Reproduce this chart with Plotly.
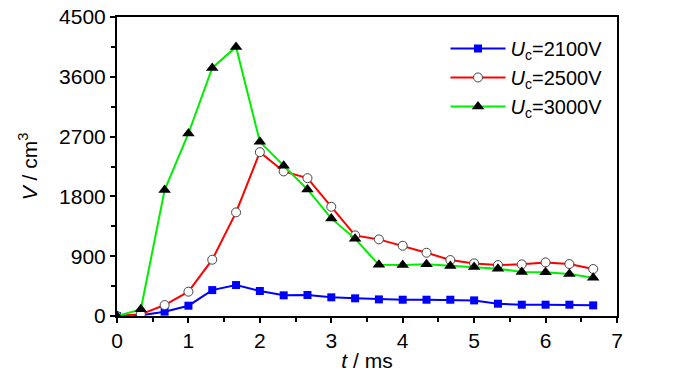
import plotly.graph_objects as go

t_ms = [0, 1/3, 2/3, 1, 4/3, 5/3, 2, 7/3, 8/3, 3, 10/3, 11/3, 4, 13/3, 14/3, 5, 16/3, 17/3, 6, 19/3, 20/3]
v_2100 = [0, 10, 65, 155, 390, 466, 376, 311, 316, 281, 266, 250, 245, 245, 245, 235, 185, 170, 170, 170, 160]
v_2500 = [0, 25, 165, 366, 847, 1559, 2466, 2176, 2075, 1644, 1213, 1153, 1057, 952, 842, 792, 767, 777, 807, 782, 707]
v_3000 = [0, 100, 1895, 2747, 3734, 4050, 2621, 2260, 1905, 1469, 1163, 770, 767, 777, 752, 737, 712, 662, 657, 632, 576]

names = ["<i>U</i><sub>c</sub>=2100V", "<i>U</i><sub>c</sub>=2500V", "<i>U</i><sub>c</sub>=3000V"]
x_ticks = [0, 1, 2, 3, 4, 5, 6, 7]
y_ticks = [0, 900, 1800, 2700, 3600, 4500]

fig = go.Figure()
fig.add_trace(go.Scatter(x=t_ms, y=v_2100, mode="lines+markers", name=names[0],
                         line=dict(color="#0000ff", width=2),
                         marker=dict(symbol="square", size=8, color="#0000ff")))
fig.add_trace(go.Scatter(x=t_ms, y=v_2500, mode="lines+markers", name=names[1],
                         line=dict(color="#ff0000", width=2),
                         marker=dict(symbol="circle", size=9, color="white",
                                     line=dict(color="#444444", width=1))))
fig.add_trace(go.Scatter(x=t_ms, y=v_3000, mode="lines+markers", name=names[2],
                         line=dict(color="#00ee00", width=2),
                         marker=dict(symbol="triangle-up", size=11, color="black")))

axis_font = dict(family="Liberation Sans, Arial", size=21, color="black")
fig.update_layout(
    width=700, height=374,
    margin=dict(l=109, r=91, t=9, b=66),
    paper_bgcolor="white", plot_bgcolor="white",
    font=axis_font,
    showlegend=True,
    legend=dict(x=0.657, y=0.96, xanchor="left", yanchor="top",
                bgcolor="rgba(0,0,0,0)", font=dict(family="Liberation Sans, Arial", size=20),
                tracegroupgap=0, itemwidth=55),
    xaxis=dict(range=[0, 7], tickvals=x_ticks, showline=True, linecolor="black", linewidth=2,
               mirror=True, ticks="outside", ticklen=5, tickwidth=1.5, tickcolor="black",
               minor=dict(ticks="outside", ticklen=4, dtick=0.5, tickcolor="black", tickwidth=1.5),
               showgrid=False, zeroline=False, automargin=False, ticklabeloverflow="allow",
               title=dict(text="<i>t</i> / ms", font=axis_font, standoff=2)),
    yaxis=dict(range=[0, 4500], tickvals=y_ticks, showline=True, linecolor="black", linewidth=2,
               mirror=True, ticks="outside", ticklen=5, tickwidth=1.5, tickcolor="black",
               minor=dict(ticks="outside", ticklen=4, dtick=450, tickcolor="black", tickwidth=1.5),
               showgrid=False, zeroline=False, automargin=False, ticklabeloverflow="allow",
               title=dict(text="<i>V</i> / cm<sup>3</sup>", font=axis_font, standoff=16)),
)

fig.write_html("out.html")
